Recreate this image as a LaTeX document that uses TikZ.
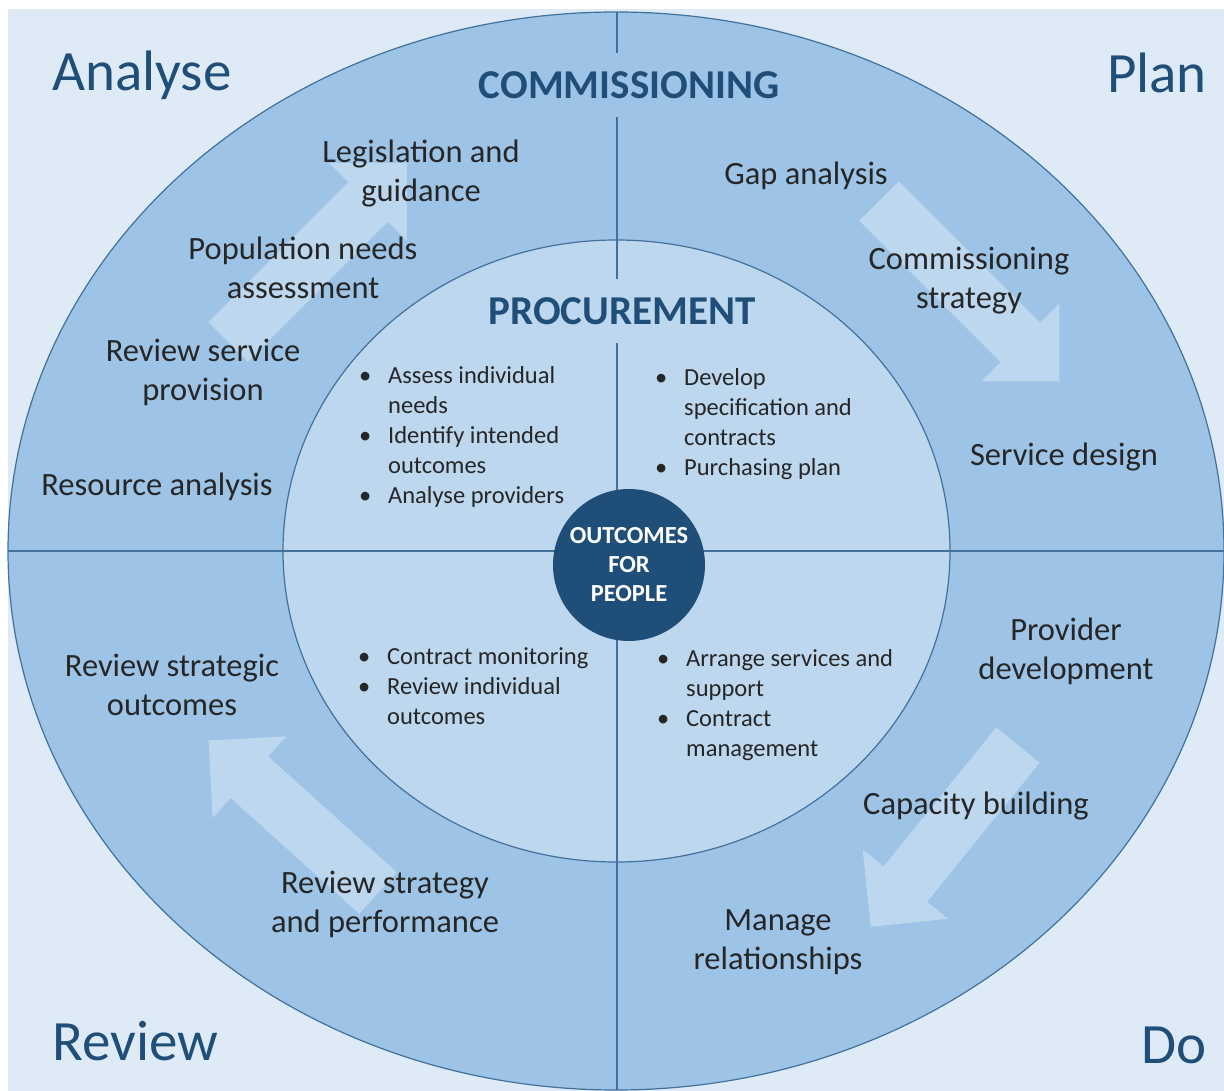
\documentclass[tikz,border=0pt]{standalone}
\usepackage{fontspec}
\setmainfont{Carlito}
\definecolor{paleblue}{HTML}{DEEAF6}
\definecolor{ringblue}{HTML}{9DC3E6}
\definecolor{coreblue}{HTML}{BDD7EE}
\definecolor{navy}{HTML}{1F4E79}
\definecolor{rule}{HTML}{41719C}
\definecolor{ink}{HTML}{262626}
\tikzset{
  phase/.style={text=navy, inner sep=0pt, font=\fontsize{57}{68}\selectfont},
  heading/.style={text=navy, inner xsep=4pt, inner ysep=18pt, font=\bfseries\fontsize{41}{48}\selectfont},
  task/.style={text=ink, align=center, inner sep=0pt, font=\fontsize{32.5}{39}\selectfont},
  duty/.style={text=ink, anchor=base west, inner sep=0pt, font=\fontsize{24.5}{30}\selectfont},
  hub/.style={circle, fill=navy, text=white, minimum size=152pt, inner sep=0pt, align=center, font=\bfseries\fontsize{24.5}{29}\selectfont},
  divider/.style={rule, line width=2pt},
  flow/.style={fill=coreblue},
}
\newcommand{\itm}{\llap{\textbullet\hspace{17pt}}}
\begin{document}
\begin{tikzpicture}[x=1pt, y=-1pt]
  \useasboundingbox (0,0) rectangle (1224,1091);
  \fill[paleblue] (8,9) rectangle (1224,1091);
  % rings
  \draw[rule, line width=1.2pt, fill=ringblue] (616,551) ellipse [x radius=608, y radius=539];
  \foreach \x/\y/\a/\l in {228/342/45/253, 879/201/-45/255, 1018/745/-129/234, 378/893/138/228}{
    \fill[flow, shift={(\x,\y)}, rotate=\a] (0,-28) -- (\l-55,-28) -- (\l-55,-55) -- (\l,0) -- (\l-55,55) -- (\l-55,28) -- (0,28) -- cycle;
  }
  \draw[rule, line width=1.2pt, fill=coreblue] (616.5,551) ellipse [x radius=333.5, y radius=311];

  \coordinate (top) at (617,12);
  \coordinate (bottom) at (617,1090);
  \coordinate (left) at (8,551);
  \coordinate (right) at (1224,551);

  \node[heading] (comm) at (629,85) {COMMISSIONING};
  \node[heading] (proc) at (622,311) {PROCUREMENT};

  \draw[divider] (top) -- (comm.north -| top);
  \draw[divider] (comm.south -| top) -- (proc.north -| top);
  \draw[divider] (proc.south -| top) -- (bottom);
  \draw[divider] (left) -- (right);

  % corners
  \node[phase, anchor=base west] (analyse) at (52,91) {Analyse};
  \node[phase, anchor=base east] (plan) at (1207,93) {Plan};
  \node[phase, anchor=base west] (review) at (52,1060) {Review};
  \node[phase, anchor=base east] (do) at (1207,1063) {Do};

  % commissioning cycle
  \node[task] (legis) at (421,174) {Legislation and\\guidance};
  \node[task] (popul) at (303,268) {Population needs\\assessment};
  \node[task] (revsrv) at (203,372) {Review service\\provision};
  \node[task] (resource) at (157,487) {Resource analysis};
  \node[task] (gap) at (806,176) {Gap analysis};
  \node[task] (strategy) at (969,281) {Commissioning\\strategy};
  \node[task] (design) at (1064,457) {Service design};
  \node[task] (provider) at (1066,651) {Provider\\development};
  \node[task] (capacity) at (976,806) {Capacity building};
  \node[task] (manage) at (778,942) {Manage\\relationships};
  \node[task] (revperf) at (385,904) {Review strategy\\and performance};
  \node[task] (revout) at (172,685) {Review strategic\\outcomes};

  % procurement
  \node[duty] (assess) at (388,384) {\begin{tabular}[t]{@{}l@{}}\itm Assess individual\\ needs\\ \itm Identify intended\\ outcomes\\ \itm Analyse providers\end{tabular}};
  \node[duty] (develop) at (684,385) {\begin{tabular}[t]{@{}l@{}}\itm Develop\\ specification and\\ contracts\\ \itm Purchasing plan\end{tabular}};
  \node[duty] (monitor) at (387,664) {\begin{tabular}[t]{@{}l@{}}\itm Contract monitoring\\ \itm Review individual\\ outcomes\end{tabular}};
  \node[duty] (arrange) at (686,666) {\begin{tabular}[t]{@{}l@{}}\itm Arrange services and\\ support\\ \itm Contract\\ management\end{tabular}};

  \node[hub] (hub) at (629,565) {OUTCOMES\\FOR\\PEOPLE};
\end{tikzpicture}
\end{document}
